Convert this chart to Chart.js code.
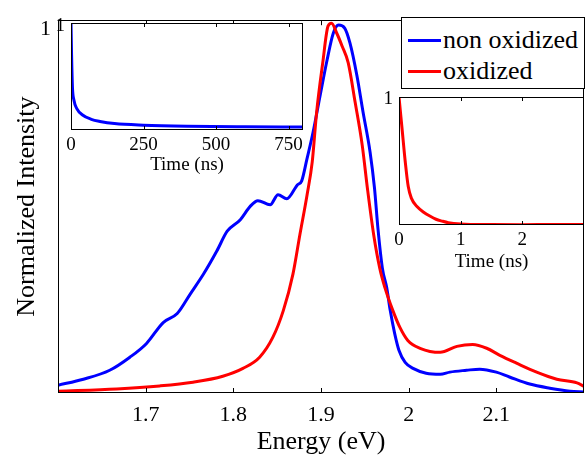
<!DOCTYPE html>
<html>
<head>
<meta charset="utf-8">
<script src="https://cdn.jsdelivr.net/npm/chart.js@4.4.0/dist/chart.umd.min.js"></script>
<style>
	html, body { margin:0; padding:0; background:#fff; }
	#wrap { position:relative; width:585px; height:455px; overflow:hidden; font-family:"Liberation Serif", serif; }
	#wrap canvas { position:absolute; left:0; top:0; }
	#legend { position:absolute; left:401px; top:17px; width:182px; height:70px; border:1px solid #000; background:#fff; font-size:26px; color:#000; }
	#legend .row { position:absolute; left:0; width:182px; height:30px; line-height:30px; white-space:nowrap; }
	#legend .swatch { position:absolute; left:6px; top:14px; width:33px; height:3px; }
	#legend .lbl { position:absolute; left:41px; top:0; }
</style>
</head>
<body>
<div id="wrap">
	<canvas id="main" width="585" height="455"></canvas>
	<canvas id="pl1" width="585" height="455"></canvas>
	<canvas id="pl2" width="585" height="455"></canvas>
	<div id="legend">
		<div class="row" style="top:7px"><span class="swatch" style="background:#0000ff"></span><span class="lbl">non oxidized</span></div>
		<div class="row" style="top:38px"><span class="swatch" style="background:#ff0000"></span><span class="lbl">oxidized</span></div>
	</div>
</div>
<script>
// PL spectra (eV, normalized)
var energyBlue    = [1.600,1.629,1.659,1.682,1.701,1.720,1.736,1.751,1.766,1.781,1.793,1.808,1.819,1.828,1.842,1.851,1.861,1.873,1.878,1.884,1.891,1.899,1.907,1.914,1.920,1.927,1.933,1.941,1.948,1.956,1.961,1.965,1.970,1.975,1.979,1.984,1.989,1.996,2.005,2.020,2.036,2.047,2.066,2.081,2.100,2.115,2.138,2.161,2.184,2.200];
var intensityBlue = [0.021,0.037,0.061,0.096,0.133,0.189,0.213,0.266,0.319,0.380,0.434,0.465,0.500,0.516,0.505,0.532,0.521,0.558,0.569,0.628,0.700,0.798,0.894,0.965,0.987,0.979,0.939,0.851,0.753,0.646,0.550,0.440,0.335,0.282,0.221,0.160,0.114,0.082,0.066,0.053,0.050,0.056,0.061,0.064,0.056,0.043,0.024,0.013,0.005,0.003];
var energyRed     = [1.600,1.667,1.716,1.754,1.788,1.811,1.830,1.845,1.857,1.868,1.876,1.884,1.890,1.895,1.902,1.908,1.912,1.918,1.924,1.931,1.939,1.947,1.953,1.960,1.967,1.973,1.982,1.990,1.999,2.013,2.036,2.055,2.073,2.089,2.104,2.123,2.146,2.169,2.192,2.200];
var intensityRed  = [0.005,0.011,0.019,0.029,0.045,0.066,0.096,0.149,0.221,0.319,0.426,0.530,0.620,0.753,0.886,0.984,0.992,0.965,0.931,0.886,0.779,0.665,0.548,0.426,0.335,0.282,0.221,0.176,0.141,0.120,0.109,0.125,0.130,0.120,0.101,0.080,0.056,0.037,0.027,0.018];
var energyTicks   = [1.7,1.8,1.9,2,2.1];
var intensityTicks = [1];

// PL decays
var timeBlue      = [0,2,5,10,20,40,70,100,150,250,400,600,800];
var decayBlue     = [1,0.70,0.40,0.28,0.20,0.14,0.10,0.08,0.06,0.045,0.035,0.03,0.028];
var timeBlueTicks = [0,250,500,750];
var timeRed       = [0,0.05,0.1,0.15,0.2,0.3,0.4,0.5,0.6,0.7,0.8,1.0,1.5,2.0,2.5,3.0];
var decayRed      = [1,0.75,0.50,0.30,0.21,0.14,0.10,0.07,0.045,0.03,0.018,0.008,0.003,0.002,0.004,0.003];
var timeRedTicks  = [0,1,2];
var decayTicks    = [1];

var F = 'Liberation Serif';

function pts(xs, ys){
	return xs.map(function(x, i){ return { x: x, y: ys[i] }; });
}
function fixTicks(vals){
	return function(scale){ scale.ticks = vals.map(function(v){ return { value: v }; }); };
}
function fixWidth(w){ return function(scale){ scale.width = w; }; }
function fixHeight(h){ return function(scale){ scale.height = h; }; }

// box round the plot with inward ticks, optional white fill behind
var framePlugin = {
	id: 'frame',
	beforeDraw: function(chart, args, opts){
		if(!opts.fill) return;
		var a = chart.chartArea, ctx = chart.ctx;
		ctx.save();
		ctx.fillStyle = '#fff';
		ctx.fillRect(a.left, a.top, a.right - a.left, a.bottom - a.top);
		ctx.restore();
	},
	afterDraw: function(chart, args, opts){
		var a = chart.chartArea, ctx = chart.ctx,
			xs = chart.scales.x, ys = chart.scales.y,
			len = opts.tick || 5;
		ctx.save();
		ctx.strokeStyle = '#000';
		ctx.lineWidth = 1;
		ctx.strokeRect(Math.round(a.left) + 0.5, Math.round(a.top) + 0.5, Math.round(a.right - a.left) - 1, Math.round(a.bottom - a.top) - 1);
		ctx.beginPath();
		xs.ticks.forEach(function(t){
			var px = Math.round(xs.getPixelForValue(t.value)) + 0.5;
			ctx.moveTo(px, a.bottom); ctx.lineTo(px, a.bottom - len);
			ctx.moveTo(px, a.top); ctx.lineTo(px, a.top + len);
		});
		ys.ticks.forEach(function(t){
			var py = Math.round(ys.getPixelForValue(t.value)) + 0.5;
			ctx.moveTo(a.left, py); ctx.lineTo(a.left + len, py);
			ctx.moveTo(a.right, py); ctx.lineTo(a.right - len, py);
		});
		ctx.stroke();
		ctx.restore();
	}
};

function line(xs, ys, color){
	return { data: pts(xs, ys), borderColor: color, backgroundColor: color, borderWidth: 3, pointRadius: 0,
		cubicInterpolationMode: 'monotone', fill: false, borderJoinStyle: 'round' };
}

function axis(o){
	return {
		type: 'linear', min: o.min, max: o.max,
		afterBuildTicks: fixTicks(o.ticks),
		afterFit: o.afterFit,
		grid: { display: false, drawTicks: false },
		border: { display: false },
		ticks: { font: { family: F, size: o.size }, color: '#000', padding: o.pad, labelOffset: o.offset || 0, maxRotation: 0, autoSkip: false,
			callback: function(v){ return String(v); } },
		title: o.title ? { display: true, text: o.title, color: '#000', font: { family: F, size: o.tsize, lineHeight: 1 }, padding: o.tpad } : { display: false }
	};
}

function base(padding, frameOpts, datasets, scales){
	return {
		type: 'line',
		data: { datasets: datasets },
		options: {
			responsive: false, animation: false, devicePixelRatio: 1,
			layout: { padding: padding },
			plugins: { legend: { display: false }, tooltip: { enabled: false }, frame: frameOpts },
			scales: scales
		},
		plugins: [framePlugin]
	};
}

// main spectra
new Chart(document.getElementById('main'), base(
	{ left: 0, top: 17, right: 1, bottom: 0 },
	{ tick: 5 },
	[ line(energyRed, intensityRed, '#ff0000'), line(energyBlue, intensityBlue, '#0000ff') ],
	{
		x: axis({ min: 1.6, max: 2.2, ticks: energyTicks, afterFit: fixHeight(62), size: 22, pad: 9, title: 'Energy (eV)', tsize: 26, tpad: { top: 0, bottom: 0 } }),
		y: axis({ min: 0, max: 1, ticks: intensityTicks, afterFit: fixWidth(58), size: 22, pad: 7, offset: 9, title: 'Normalized Intensity', tsize: 26, tpad: { top: 14, bottom: 0 } })
	}
));

// inset: non oxidized decay
new Chart(document.getElementById('pl1'), base(
	{ left: 0, top: 23, right: 282, bottom: 280 },
	{ tick: 4, fill: true },
	[ line(timeBlue, decayBlue, '#0000ff') ],
	{
		x: axis({ min: 0, max: 800, ticks: timeBlueTicks, afterFit: fixHeight(45), size: 19, pad: 4, title: 'Time (ns)', tsize: 19, tpad: { top: 0, bottom: 0 } }),
		y: axis({ min: 0, max: 1, ticks: decayTicks, afterFit: fixWidth(71), size: 19, pad: 6, offset: 3 })
	}
));

// inset: oxidized decay
new Chart(document.getElementById('pl2'), base(
	{ left: 0, top: 97, right: 1, bottom: 180 },
	{ tick: 4, fill: true },
	[ line(timeRed, decayRed, '#ff0000') ],
	{
		x: axis({ min: 0, max: 3, ticks: timeRedTicks, afterFit: fixHeight(50), size: 19, pad: 4, title: 'Time (ns)', tsize: 19, tpad: { top: 0, bottom: 3 } }),
		y: axis({ min: 0, max: 1, ticks: decayTicks, afterFit: fixWidth(399), size: 19, pad: 6, offset: 2 })
	}
));
</script>
</body>
</html>
